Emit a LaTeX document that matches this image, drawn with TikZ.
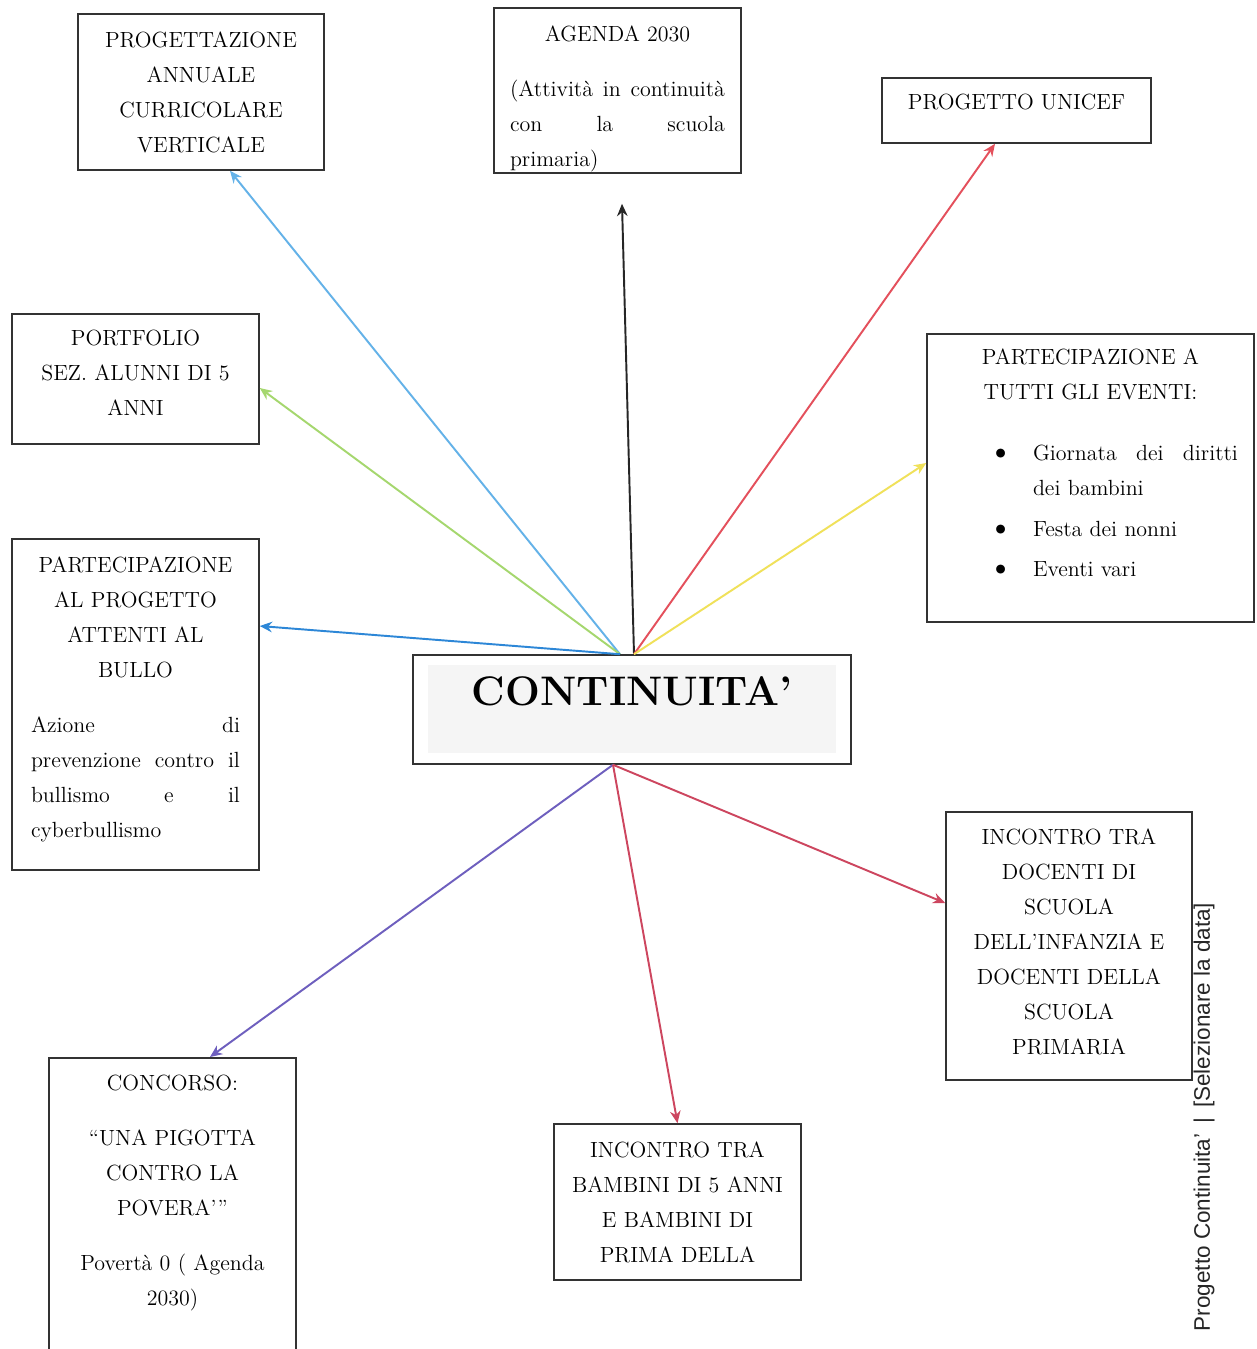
\documentclass[tikz,border=0pt]{standalone}
\usepackage{fontspec}
\newfontfamily\footfont{Liberation Sans}
\usetikzlibrary{arrows.meta}

\definecolor{arrsky}{RGB}{100,178,232}
\definecolor{arrblue}{RGB}{45,135,215}
\definecolor{arrgreen}{RGB}{165,215,110}
\definecolor{arryellow}{RGB}{240,225,90}
\definecolor{arrred}{RGB}{228,80,92}
\definecolor{arrrose}{RGB}{205,70,95}
\definecolor{arrpurple}{RGB}{110,95,190}

\newcommand{\jline}[1]{\makebox[\hsize][l]{#1}}
\newcommand{\bul}{\makebox[0.9cm][l]{\raisebox{-0.1ex}{\scalebox{1.5}{\textbullet}}}}

\begin{document}
\begin{tikzpicture}[x=0.02cm, y=-0.02cm,
	box/.style={draw=black!80, line width=0.9pt, align=center, inner sep=0pt, font=\fontsize{12.5}{19.9}\selectfont},
	arr/.style={line width=1.1pt, -{Stealth[length=7pt,width=6pt]}}]

	\clip (0,0) rectangle (1257,1349);
	\fill[white] (0,0) rectangle (1257,1349);

	\fill[black!4] (428,665) rectangle (836,753);
	\node[draw=black!80, line width=0.9pt, minimum width=8.76cm, minimum height=2.18cm, text height=0.6cm, text depth=0.75cm, font=\fontsize{23.5}{28}\selectfont\bfseries] (cont) at (632,709.5) {CONTINUITA’};

	\node[box, text width=4.6cm, minimum width=4.92cm, minimum height=3.12cm] (prog) at (201,92) {PROGETTAZIONE\\ANNUALE\\CURRICOLARE\\VERTICALE};
	\node[box, text width=4.3cm, minimum width=4.94cm, minimum height=3.3cm] (agenda) at (617.5,90.5) {\rule{0pt}{0.66cm}AGENDA 2030\\[0.4cm]\jline{(Attività\hfill in\hfill continuità}\\\jline{con\hfill la\hfill scuola}\\\jline{primaria)}};
	\node[box, minimum width=5.38cm, minimum height=1.3cm] (unicef) at (1016.5,110.5) {PROGETTO UNICEF\rule[-0.36cm]{0pt}{0.36cm}};
	\node[box, text width=4.6cm, minimum width=4.94cm, minimum height=2.6cm] (portfolio) at (135.5,379) {PORTFOLIO\\SEZ. ALUNNI DI 5\\ANNI\rule[-0.24cm]{0pt}{0.24cm}};
	\node[box, text width=5.9cm, minimum width=6.54cm, minimum height=5.76cm] (eventi) at (1090.5,478) {PARTECIPAZIONE A\\TUTTI GLI EVENTI:\\[0.52cm]
		\hspace*{0.9cm}\bul\makebox[4.1cm][l]{Giornata\hfill dei\hfill diritti}\\
		\hspace*{1.8cm}\makebox[4.1cm][l]{dei bambini}\\[0.12cm]
		\hspace*{0.9cm}\bul\makebox[4.1cm][l]{Festa dei nonni}\\[0.1cm]
		\hspace*{0.9cm}\bul\makebox[4.1cm][l]{Eventi vari}\\[-0.1cm]\mbox{}};
	\node[box, text width=4.18cm, minimum width=4.94cm, minimum height=6.62cm] (bullo) at (135.5,704.5) {PARTECIPAZIONE\\AL PROGETTO\\ATTENTI AL\\BULLO\\[0.4cm]\jline{Azione\hfill di}\\\jline{prevenzione\hfill contro\hfill il}\\\jline{bullismo\hfill e\hfill il}\\\jline{cyberbullismo}\\[-0.4cm]\mbox{}};
	\node[box, text width=4.6cm, minimum width=4.92cm, minimum height=5.36cm] (docenti) at (1069,946) {INCONTRO TRA\\DOCENTI DI\\SCUOLA\\DELL’INFANZIA E\\DOCENTI DELLA\\SCUOLA\\PRIMARIA\rule[-0.16cm]{0pt}{0.16cm}};
	\node[box, text width=4.6cm, minimum width=4.94cm, minimum height=6.46cm, anchor=north] (concorso) at (172.5,1057) {CONCORSO:\\[0.4cm]“UNA PIGOTTA\\CONTRO LA\\POVERA’”\\[0.4cm]Povertà 0 ( Agenda\\2030)\\[0.46cm]\mbox{}};
	\node[box, text width=4.6cm, minimum width=4.94cm, minimum height=3.12cm] (bambini) at (677.5,1202) {INCONTRO TRA\\BAMBINI DI 5 ANNI\\E BAMBINI DI\\PRIMA DELLA};

	\node[rotate=90, text=black!85, font=\footfont\fontsize{12.8}{15}\selectfont] (footer) at (1204,1117) {Progetto Continuita’ \,|\, [Selezionare la data]};

	\coordinate (ctop) at ([xshift=-0.24cm]cont.north);
	\coordinate (ctopr) at ([xshift=0.04cm]cont.north);
	\coordinate (cbot) at ([xshift=-0.38cm]cont.south);

	\draw[arr, arrsky] (ctop) -- ([xshift=0.58cm]prog.south);
	\draw[arr, black!85] (ctopr) -- ([xshift=0.09cm, yshift=-0.6cm]agenda.south);
	\draw[arr, arrred] (ctopr) -- ([xshift=-0.43cm]unicef.south);
	\draw[arr, arrgreen] (ctop) -- ([yshift=-0.18cm]portfolio.east);
	\draw[arr, arrblue] (ctop) -- ([yshift=1.57cm]bullo.east);
	\draw[arr, arryellow] (ctopr) -- ([yshift=0.3cm]eventi.west);
	\draw[arr, arrpurple] (cbot) -- ([xshift=0.75cm]concorso.north);
	\draw[arr, arrrose] (cbot) -- (bambini.north);
	\draw[arr, arrrose] (cbot) -- ([yshift=0.86cm]docenti.west);
\end{tikzpicture}
\end{document}
